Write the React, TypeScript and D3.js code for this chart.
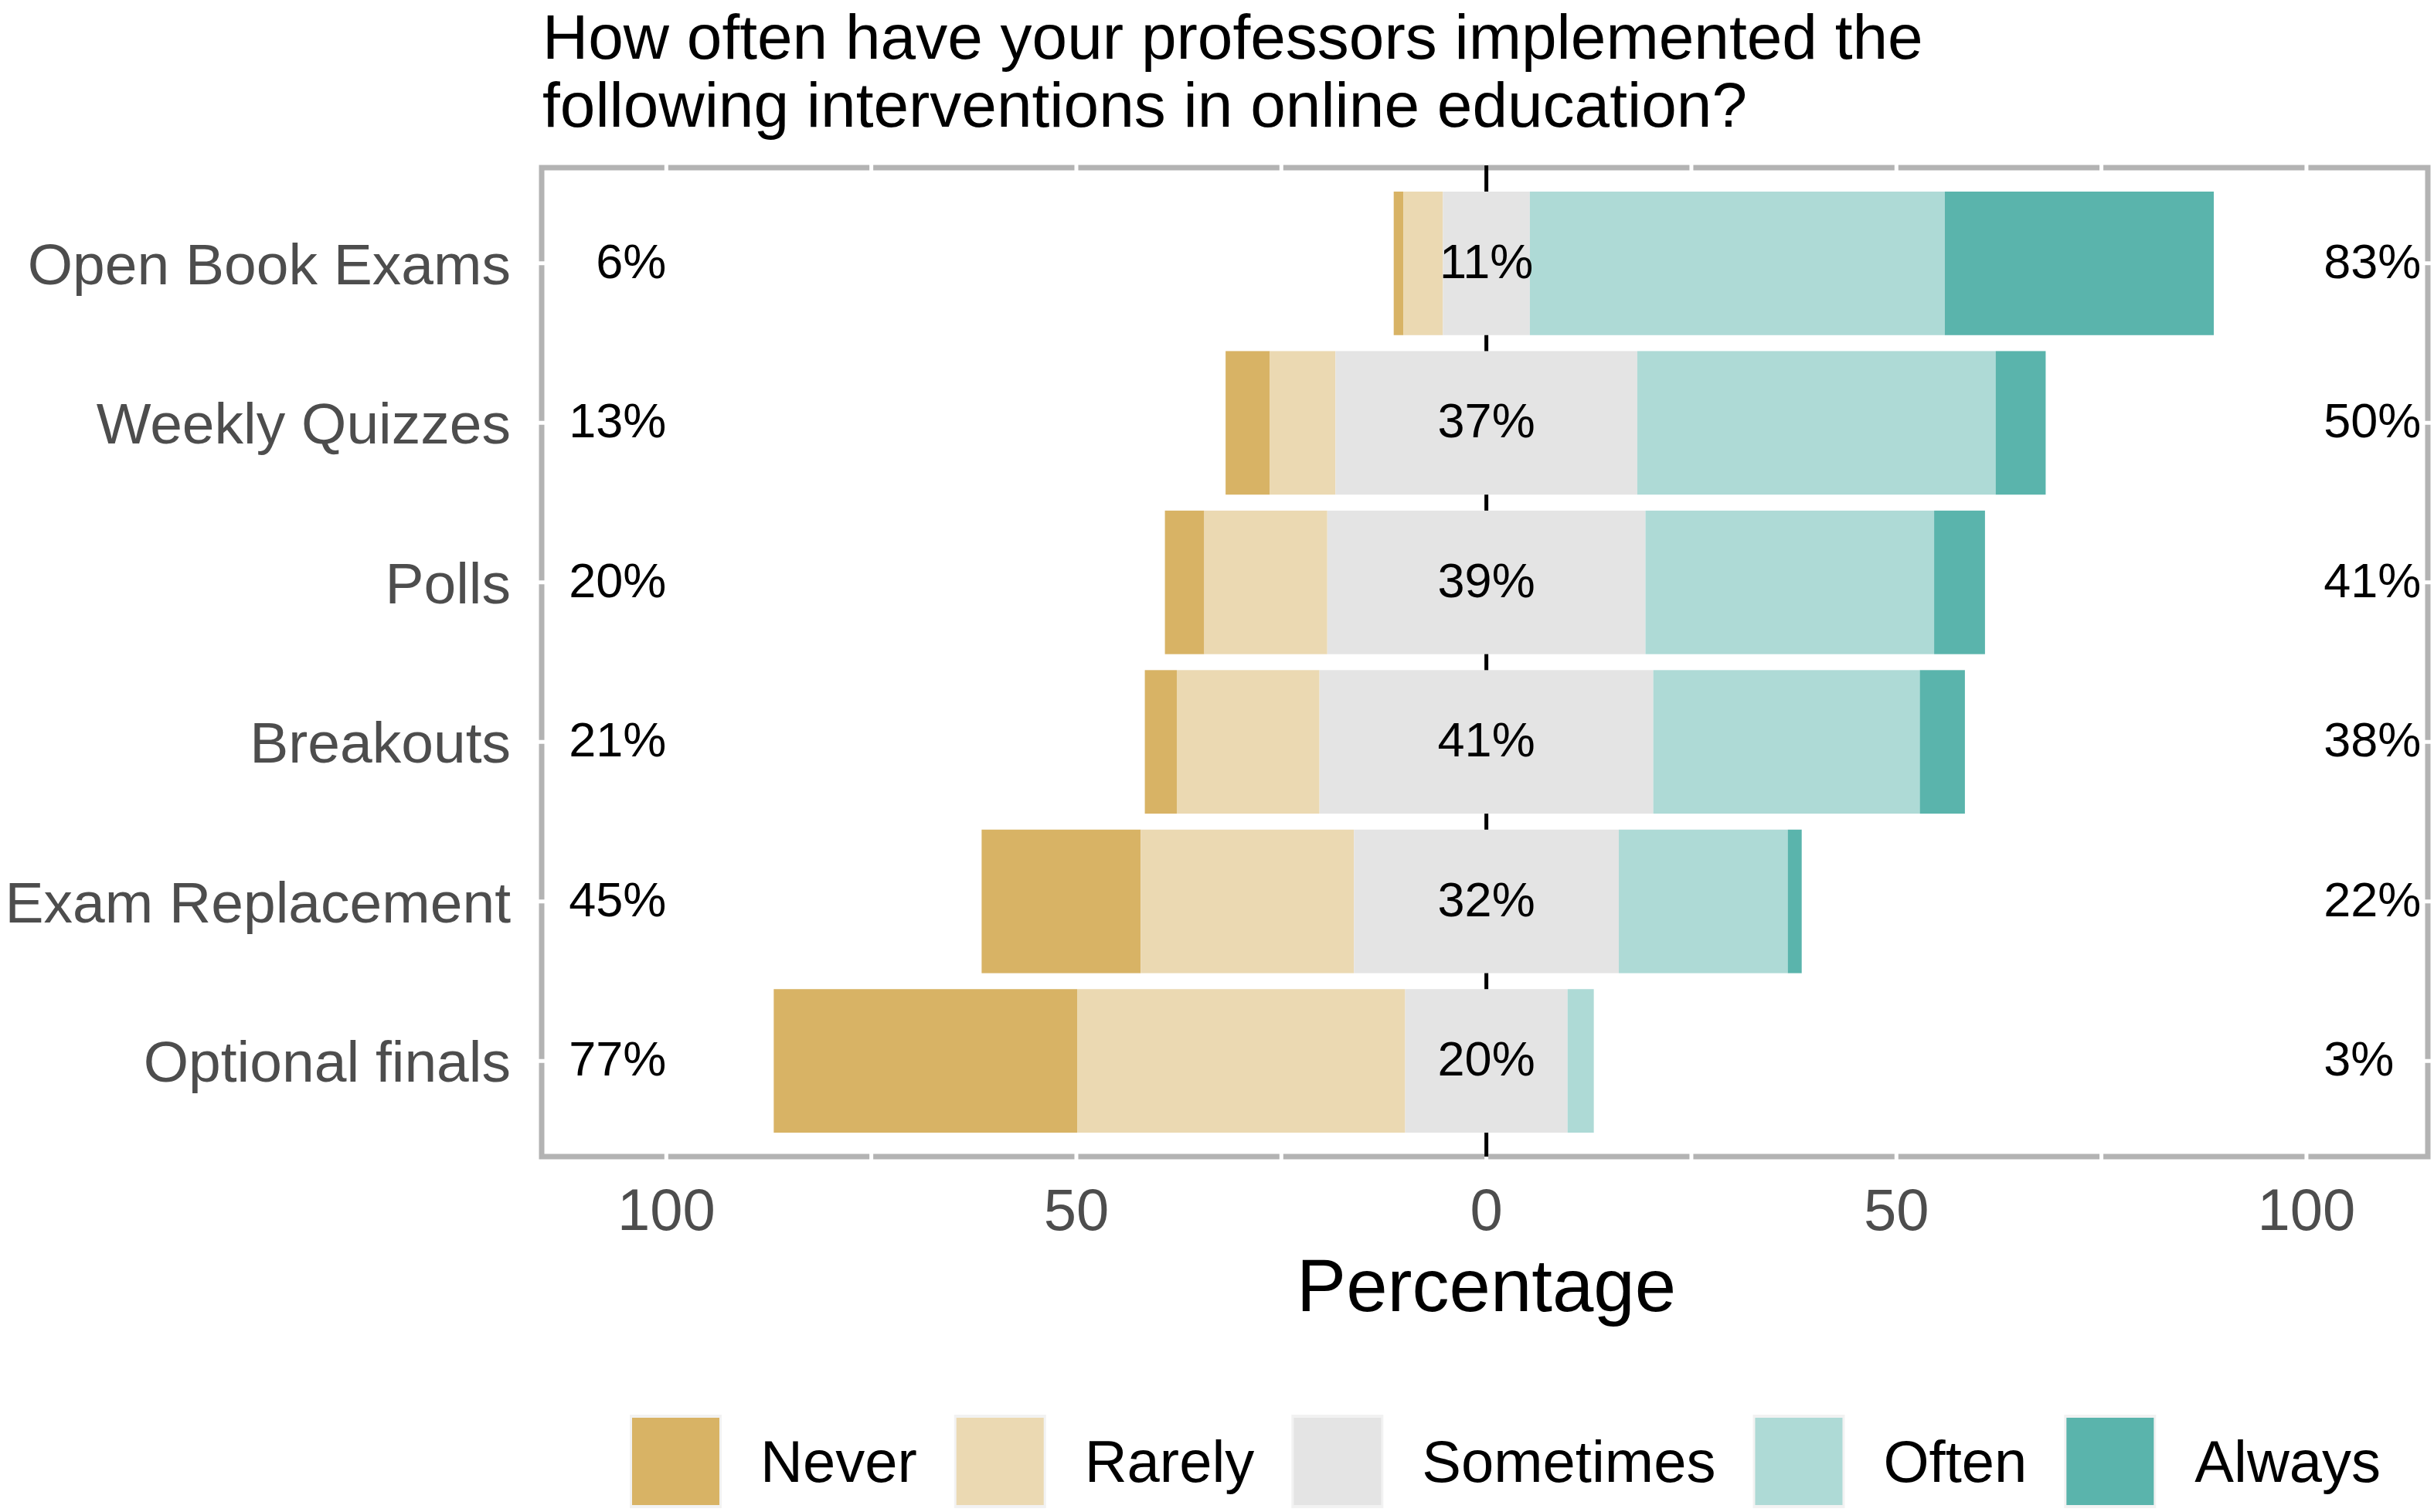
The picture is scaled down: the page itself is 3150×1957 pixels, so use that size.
import React from "react";
import * as d3 from "d3";

const categories = ["Open Book Exams", "Weekly Quizzes", "Polls", "Breakouts", "Exam Replacement", "Optional finals"];
const levels = ["Never", "Rarely", "Sometimes", "Often", "Always"];
const never = [1.2, 5.4, 4.8, 3.9, 19.4, 37.0];
const rarely = [4.8, 8.0, 15.0, 17.4, 26.0, 40.0];
const sometimes = [10.6, 36.8, 38.8, 40.7, 32.3, 19.8];
const often = [50.6, 43.7, 35.2, 32.5, 20.6, 3.2];
const always = [32.8, 6.1, 6.2, 5.5, 1.7, 0];
const levelColors = ["#D8B365", "#EBD9B2", "#E4E4E4", "#AEDAD6", "#5AB4AC"];
const xTicks = [-100, -50, 0, 50, 100];
const gridTicks = [-100, -75, -50, -25, 0, 25, 50, 75, 100];
const titleLines = [
  "How often have your professors implemented the",
  "following interventions in online education?",
];
const xTitle = "Percentage";

const W = 3150;
const H = 1957;
const FONT = "'Liberation Sans', Arial, Helvetica, sans-serif";

let canvasCtx: CanvasRenderingContext2D | null = null;
function textWidth(t: string, size: number) {
  if (!canvasCtx) {
    const c = document.createElement("canvas");
    canvasCtx = c.getContext("2d");
  }
  if (!canvasCtx) return t.length * size * 0.5;
  canvasCtx.font = `${size}px ${FONT}`;
  return canvasCtx.measureText(t).width;
}

export default function App() {
  const panel = { left: 701, right: 3142, top: 217, bottom: 1497 };
  const x = d3.scaleLinear().domain([-115.2, 114.8]).range([panel.left, panel.right]);
  const y = d3
    .scaleBand<string>()
    .domain(categories)
    .range([panel.top, panel.bottom])
    .paddingInner(0.1)
    .paddingOuter(0.15);

  const series = [never, rarely, sometimes, often, always];

  const rows = categories.map((cat, i) => {
    const vals = series.map((s) => s[i]);
    let start = -(vals[0] + vals[1] + vals[2] / 2);
    const segs = vals.map((v, k) => {
      const s = { level: levels[k], x0: start, x1: start + v, color: levelColors[k] };
      start += v;
      return s;
    });
    const low = vals[0] + vals[1];
    const neu = vals[2];
    const high = vals[3] + vals[4];
    return { cat, segs, low, neu, high };
  });

  const barLabelSize = 63;
  const axisTextSize = 76;
  const yLabelSize = 75;
  const legendSize = 76;

  // legend layout
  const keySize = 113;
  const keyGap = 53;
  const itemGap = 51;
  const legendY = 1835;
  let lx = 818;
  const legendItems = levels.map((lv, k) => {
    const item = { lv, color: levelColors[k], x: lx };
    lx += keySize + keyGap + textWidth(lv, legendSize) + itemGap;
    return item;
  });

  return (
    <svg
      width={W}
      height={H}
      style={{ position: "absolute", left: 0, top: 0, background: "#fff" }}
      fontFamily={FONT}
    >
      <rect x={0} y={0} width={W} height={H} fill="#fff" />
      {/* title */}
      {titleLines.map((t, i) => (
        <text key={i} x={702} y={76 + i * 88} fontSize={82} fill="#000">
          {t}
        </text>
      ))}
      {/* panel border */}
      <rect
        x={panel.left}
        y={panel.top}
        width={panel.right - panel.left}
        height={panel.bottom - panel.top}
        fill="#fff"
        stroke="#B3B3B3"
        strokeWidth={7}
      />
      {/* white gridlines */}
      {gridTicks.map((t) => (
        <line key={"gx" + t} x1={x(t)} x2={x(t)} y1={panel.top - 5} y2={panel.bottom + 5} stroke="#fff" strokeWidth={5} />
      ))}
      {categories.map((c) => {
        const cy = (y(c) as number) + y.bandwidth() / 2;
        return (
          <line key={"gy" + c} x1={panel.left - 5} x2={panel.right + 5} y1={cy} y2={cy} stroke="#fff" strokeWidth={5} />
        );
      })}
      {/* zero line */}
      <line x1={x(0)} x2={x(0)} y1={panel.top - 3} y2={panel.bottom} stroke="#000" strokeWidth={5} />
      {/* bars */}
      {rows.map((r) =>
        r.segs.map((s) =>
          s.x1 - s.x0 > 0 ? (
            <rect
              key={r.cat + s.level}
              x={x(s.x0)}
              y={y(r.cat)}
              width={x(s.x1) - x(s.x0)}
              height={y.bandwidth()}
              fill={s.color}
            />
          ) : null
        )
      )}
      {/* bar labels */}
      {rows.map((r) => {
        const cy = (y(r.cat) as number) + y.bandwidth() / 2;
        return (
          <g key={"lab" + r.cat} fontSize={barLabelSize} fill="#000">
            <text x={x(-100)} y={cy} dy="0.3em" textAnchor="end">
              {Math.round(r.low)}%
            </text>
            <text x={x(0)} y={cy} dy="0.3em" textAnchor="middle">
              {Math.round(r.neu)}%
            </text>
            <text x={x(102.1)} y={cy} dy="0.3em" textAnchor="start">
              {Math.round(r.high)}%
            </text>
          </g>
        );
      })}
      {/* y axis labels */}
      {categories.map((c) => {
        const cy = (y(c) as number) + y.bandwidth() / 2;
        return (
          <text key={"yl" + c} x={661} y={cy} dy="0.36em" textAnchor="end" fontSize={yLabelSize} fill="#4D4D4D">
            {c}
          </text>
        );
      })}
      {/* x axis labels */}
      {xTicks.map((t) => (
        <text key={"xt" + t} x={x(t)} y={1592} textAnchor="middle" fontSize={axisTextSize} fill="#4D4D4D">
          {Math.abs(t)}
        </text>
      ))}
      <text x={x(0)} y={1697} textAnchor="middle" fontSize={96} fill="#000">
        {xTitle}
      </text>
      {/* legend */}
      {legendItems.map((it) => (
        <g key={"lg" + it.lv}>
          <rect x={it.x - 3} y={legendY - 4} width={keySize + 6} height={keySize + 8} fill="#F2F2F2" />
          <rect x={it.x} y={legendY} width={keySize} height={keySize} fill={it.color} />
          <text x={it.x + keySize + keyGap} y={1918} fontSize={legendSize} fill="#000">
            {it.lv}
          </text>
        </g>
      ))}
    </svg>
  );
}
